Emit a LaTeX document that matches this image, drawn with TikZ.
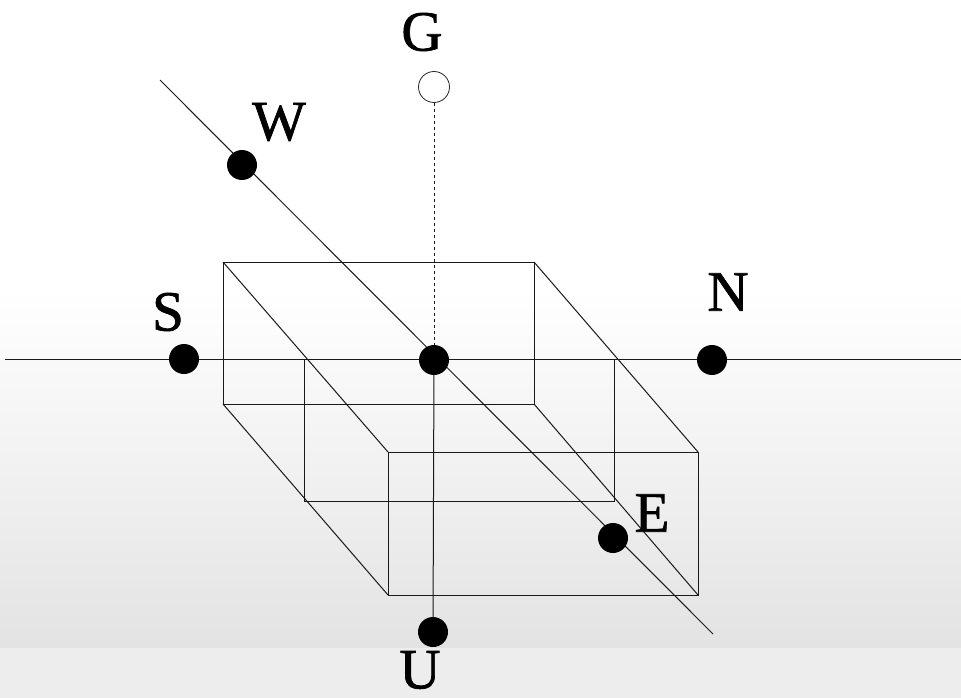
\documentclass[tikz,border=0pt]{standalone}
\usepackage{fontspec}
\setmainfont{Liberation Serif}
\newfontfamily\lblfont[FakeBold=1.2]{Liberation Serif}
\begin{document}
\begin{tikzpicture}[x=1pt,y=-1pt,
  dot/.style={circle,fill=black,inner sep=0pt,minimum size=30pt},
  odot/.style={circle,draw=black!85,fill=white,inner sep=0pt,minimum size=31pt,line width=0.8pt},
  lbl/.style={font=\lblfont\fontsize{57}{60}\selectfont,inner sep=0pt},
  ln/.style={line width=1pt,draw=black!90},
  dotted line/.style={line width=1pt,draw=black!90,dash pattern=on 3.5pt off 2.5pt}]
\useasboundingbox (0,0) rectangle (961,698);
% background paper
\fill[white] (0,0) rectangle (961,698);
\shade[top color=white,bottom color=black!11] (0,290) rectangle (961,648);
\fill[black!7] (0,648) rectangle (961,698);
% box corners
\coordinate (a1) at (223,262); \coordinate (a2) at (534,262);
\coordinate (a3) at (534,404); \coordinate (a4) at (223,404);
\coordinate (b1) at (304,359); \coordinate (b2) at (614,359);
\coordinate (b3) at (614,501); \coordinate (b4) at (304,501);
\coordinate (c1) at (388,452); \coordinate (c2) at (698,452);
\coordinate (c3) at (698,595); \coordinate (c4) at (388,595);
\draw[ln] (a1) -- (a2) -- (a3) -- (a4) -- cycle;
\draw[ln] (b1) -- (b2) -- (b3) -- (b4) -- cycle;
\draw[ln] (c1) -- (c2) -- (c3) -- (c4) -- cycle;
\draw[ln] (a1) -- (c1); \draw[ln] (a2) -- (c2);
\draw[ln] (a3) -- (c3); \draw[ln] (a4) -- (c4);
% axes
\coordinate (hl) at (5,359); \coordinate (hr) at (961,359);
\coordinate (dl) at (160,80); \coordinate (dr) at (713,634);
\draw[ln] (hl) -- (hr);
\draw[ln] (dl) -- (dr);
% points
\node[odot] (G) at (434,87) {};
\node[dot] (O) at (434,360) {};
\node[dot] (S) at (184,359) {};
\node[dot] (N) at (712,360) {};
\node[dot] (W) at (242,165) {};
\node[dot] (E) at (613,538) {};
\node[dot] (U) at (433,632) {};
\draw[dotted line] (G) -- (O);
\draw[ln] (O) -- (U);
% labels
\node[lbl] (Gl) at (422,32) {G};
\node[lbl] (Wl) at (279,122) {W};
\node[lbl] (Sl) at (168,312) {S};
\node[lbl] (Nl) at (728,292) {N};
\node[lbl] (El) at (652,513) {E};
\node[lbl] (Ul) at (420,670) {U};
\end{tikzpicture}
\end{document}
